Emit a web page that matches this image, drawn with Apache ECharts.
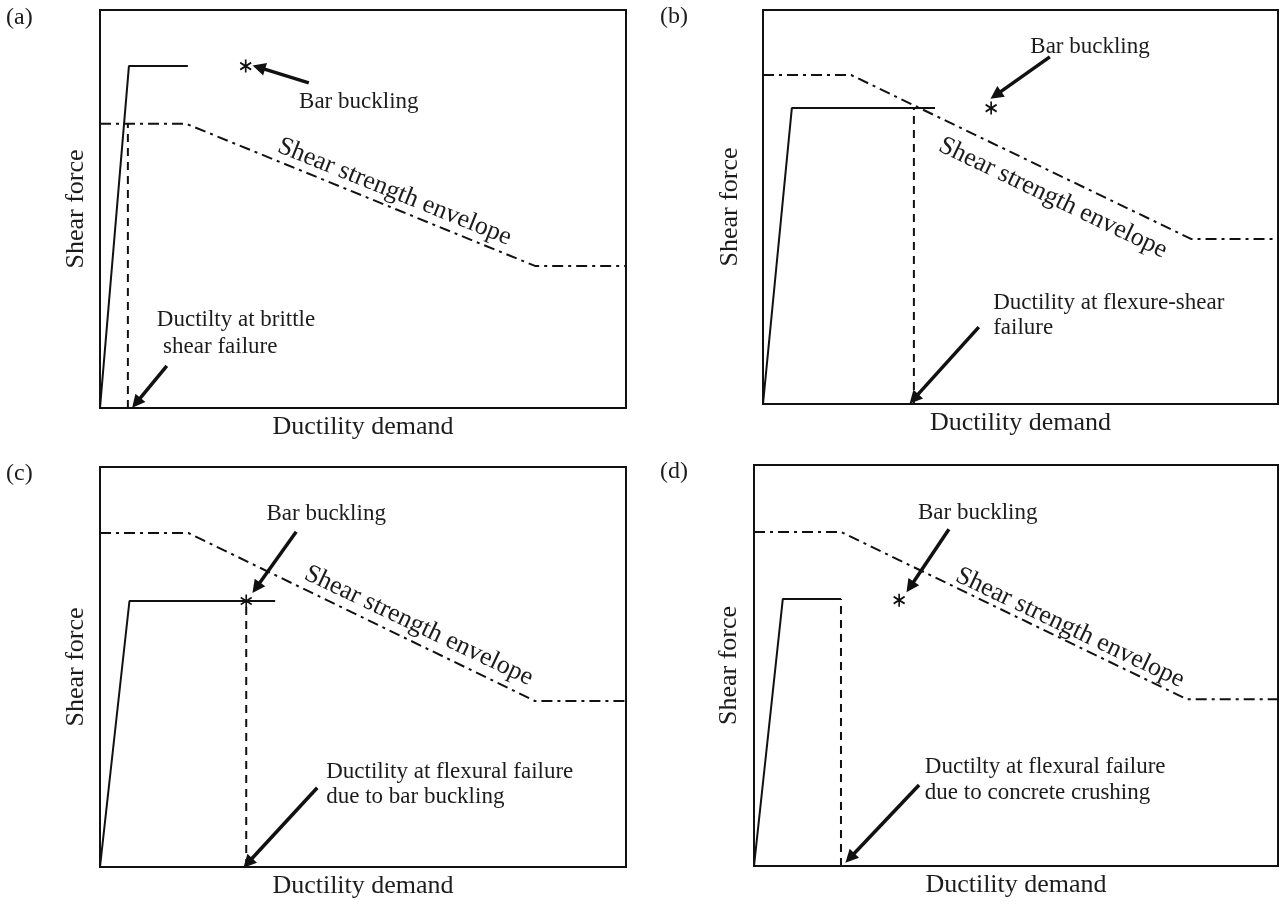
<!DOCTYPE html>
<html>
<head>
<meta charset="utf-8">
<script src="https://cdn.jsdelivr.net/npm/echarts@6/dist/echarts.min.js"></script>
<style>
  html, body { margin: 0; padding: 0; background: #fff; }
  #chart { width: 1283px; height: 904px; }
</style>
</head>
<body>
<div id="chart"></div>
<script>
// Schematic coordinates: ductility demand (x) and shear force (y), both on a 0-100 scale.

// (a) brittle shear failure
const capacityA = [[0, 0], [5.5, 85.9], [16.7, 85.9]];
const failureA = [[5.3, 0], [5.3, 71.4]];
const envelopeA = [[0, 71.4], [16.4, 71.4], [82.7, 35.7], [100, 35.7]];
const bucklingA = [27.7, 85.9];
const arrowsA = [[[39.7, 81.7], [30.2, 85.6]], [[12.7, 10.6], [6.9, 1.3]]];

// (b) flexure-shear failure
const capacityB = [[0, 0], [5.6, 75.1], [33.4, 75.1]];
const failureB = [[29.3, 0], [29.3, 75.1]];
const envelopeB = [[0, 83.5], [17.1, 83.5], [83.1, 41.9], [100, 41.9]];
const bucklingB = [44.3, 75.1];
const arrowsB = [[[55.7, 88.1], [45.2, 78.4]], [[41.9, 19.5], [29.3, 1.3]]];

// (c) flexural failure due to bar buckling
const capacityC = [[0, 0], [5.6, 66.5], [33.3, 66.5]];
const failureC = [[27.8, 0], [27.8, 66.5]];
const envelopeC = [[0, 83.5], [16.8, 83.5], [82.7, 41.5], [100, 41.5]];
const bucklingC = [27.8, 66.5];
const arrowsC = [[[37.3, 83.8], [29.7, 69.8]], [[41.3, 19.8], [28.1, 1.0]]];

// (d) flexural failure due to concrete crushing
const capacityD = [[0, 0], [5.5, 66.6], [16.6, 66.6]];
const failureD = [[16.6, 0], [16.6, 66.6]];
const envelopeD = [[0, 83.3], [16.6, 83.3], [82.6, 41.6], [100, 41.6]];
const bucklingD = [27.7, 66.3];
const arrowsD = [[[37.2, 84.0], [29.8, 69.6]], [[31.5, 20.2], [18.3, 2.0]]];

// Annotation text: [x, y, text, align, rotation]
const notesA = [
  [49.2, 76.9, 'Bar buckling', 'center', 0],
  [56.0, 54.3, 'Shear strength envelope', 'center', -22],
  [10.8, 22.1, 'Ductilty at brittle', 'left', 0],
  [12.0, 15.3, 'shear failure', 'left', 0]
];
const notesB = [
  [63.5, 90.6, 'Bar buckling', 'center', 0],
  [56.3, 52.3, 'Shear strength envelope', 'center', -25.5],
  [44.7, 25.6, 'Ductility at flexure-shear', 'left', 0],
  [44.7, 19.3, 'failure', 'left', 0]
];
const notesC = [
  [43.0, 88.3, 'Bar buckling', 'center', 0],
  [60.6, 60.3, 'Shear strength envelope', 'center', -25.4],
  [43.0, 23.8, 'Ductility at flexural failure', 'left', 0],
  [43.0, 17.5, 'due to bar buckling', 'left', 0]
];
const notesD = [
  [42.7, 88.0, 'Bar buckling', 'center', 0],
  [60.3, 59.4, 'Shear strength envelope', 'center', -25.4],
  [32.6, 24.7, 'Ductilty at flexural failure', 'left', 0],
  [32.6, 18.2, 'due to concrete crushing', 'left', 0]
];

const panelTags = ['(a)', '(b)', '(c)', '(d)'];
const xTitle = 'Ductility demand';
const yTitle = 'Shear force';

const FONT = '"Liberation Serif", "Times New Roman", serif';
const INK = '#111';
const TEXT = '#1c1c1c';

const grids = [
  { left: 100, top: 10, width: 526, height: 398 },
  { left: 763, top: 10, width: 515, height: 394 },
  { left: 100, top: 467, width: 526, height: 400 },
  { left: 754, top: 465, width: 524, height: 401 }
];
const yNameGaps = [11, 20, 11, 12];
const tagPos = [[6, 6], [660, 5], [6, 462], [660, 460]];

const panels = [
  [capacityA, failureA, envelopeA, bucklingA, arrowsA, notesA],
  [capacityB, failureB, envelopeB, bucklingB, arrowsB, notesB],
  [capacityC, failureC, envelopeC, bucklingC, arrowsC, notesC],
  [capacityD, failureD, envelopeD, bucklingD, arrowsD, notesD]
];

const option = {
  animation: false,
  backgroundColor: '#fff',
  title: panelTags.map((t, i) => ({
    text: t, left: tagPos[i][0], top: tagPos[i][1], padding: 0,
    textStyle: { fontFamily: FONT, fontSize: 24, fontWeight: 'normal', color: TEXT }
  })),
  grid: grids.map(g => Object.assign({ show: true, borderColor: INK, borderWidth: 2, backgroundColor: 'transparent' }, g)),
  xAxis: grids.map((g, i) => ({
    gridIndex: i, type: 'value', min: 0, max: 100,
    name: xTitle, nameLocation: 'middle', nameGap: 6,
    nameTextStyle: { fontFamily: FONT, fontSize: 26, color: TEXT },
    axisLine: { show: false }, axisTick: { show: false }, axisLabel: { show: false }, splitLine: { show: false }
  })),
  yAxis: grids.map((g, i) => ({
    gridIndex: i, type: 'value', min: 0, max: 100,
    name: yTitle, nameLocation: 'middle', nameGap: yNameGaps[i],
    nameTextStyle: { fontFamily: FONT, fontSize: 26, color: TEXT },
    axisLine: { show: false }, axisTick: { show: false }, axisLabel: { show: false }, splitLine: { show: false }
  })),
  series: []
};

panels.forEach(([cap, fail, env, buck, arrows, notes], i) => {
  const axes = { xAxisIndex: i, yAxisIndex: i };
  option.series.push(Object.assign({
    type: 'line', data: cap, symbol: 'none', silent: true,
    lineStyle: { color: INK, width: 2 }
  }, axes));
  option.series.push(Object.assign({
    type: 'line', data: fail, symbol: 'none', silent: true,
    lineStyle: { color: INK, width: 2, type: [8, 6] }
  }, axes));
  option.series.push(Object.assign({
    type: 'line', data: env, symbol: 'none', silent: true,
    lineStyle: { color: INK, width: 2, type: [11, 5, 3, 5] }
  }, axes));
  option.series.push(Object.assign({
    type: 'scatter', data: [buck], silent: true, z: 5,
    symbol: 'path://M5,0 L5,13 M0,3 L10,10 M0,10 L10,3',
    symbolSize: [11, 13],
    itemStyle: { color: 'none', borderColor: INK, borderWidth: 1.8, opacity: 1 }
  }, axes));
  option.series.push(Object.assign({
    type: 'lines', coordinateSystem: 'cartesian2d', silent: true,
    symbol: ['none', 'triangle'], symbolSize: 13,
    lineStyle: { color: INK, width: 3.5, opacity: 1 },
    data: arrows.map(c => ({ coords: c }))
  }, axes));
  option.series.push(Object.assign({
    type: 'scatter', silent: true, symbolSize: 1,
    itemStyle: { color: 'rgba(0,0,0,0)', opacity: 1 },
    data: notes.map(n => ({
      value: [n[0], n[1]],
      label: {
        show: true, position: 'inside', formatter: n[2], opacity: 1,
        align: n[3], verticalAlign: 'middle', rotate: n[4],
        fontFamily: FONT, fontSize: n[4] ? 26 : 23, color: TEXT
      }
    }))
  }, axes));
});

const chart = echarts.init(document.getElementById('chart'));
chart.setOption(option);
</script>
</body>
</html>
